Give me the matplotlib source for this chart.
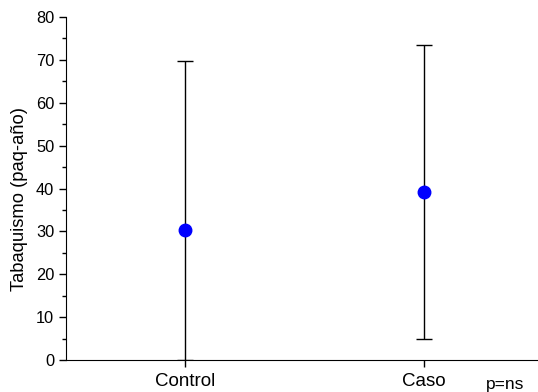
import numpy as np
import matplotlib.pyplot as plt

plt.rcParams['font.family'] = ['Liberation Sans', 'DejaVu Sans']

groups = ['Control', 'Caso']
means = [30.4, 39.2]
upper = [69.8, 73.4]
lower = [0.0, 5.0]

x = np.arange(len(groups))
yerr = [np.array(means) - np.array(lower), np.array(upper) - np.array(means)]

fig = plt.figure(figsize=(5.38, 3.92), dpi=100)
ax = fig.add_axes([0.1227, 0.0816, 0.8773, 0.875])

ax.errorbar(x, means, yerr=yerr, fmt='o', color='blue', markersize=9,
            ecolor='black', elinewidth=1, capsize=5.5, capthick=1, zorder=3)

ax.set_xlim(-0.498, 1.477)
ax.set_ylim(0, 80)
ax.set_yticks(np.arange(0, 81, 10))
ax.set_yticks(np.arange(0, 81, 5), minor=True)
ax.set_xticks(x)
ax.set_xticklabels(groups, fontsize=13.5)
ax.tick_params(axis='y', labelsize=11.8, length=5, width=1)
ax.tick_params(axis='y', which='minor', length=3, width=1)
ax.tick_params(axis='x', length=5, width=1, pad=4)
for s in ['top', 'right']:
    ax.spines[s].set_visible(False)
ax.set_ylabel('Tabaquismo (paq-año)', fontsize=13.2)
ax.yaxis.set_label_coords(-0.0805, 0.469)
fig.text(505 / 538, 1 - 384 / 392, 'p=ns', fontsize=12.5, ha='center', va='center')

fig.savefig('out.png', dpi=100)
